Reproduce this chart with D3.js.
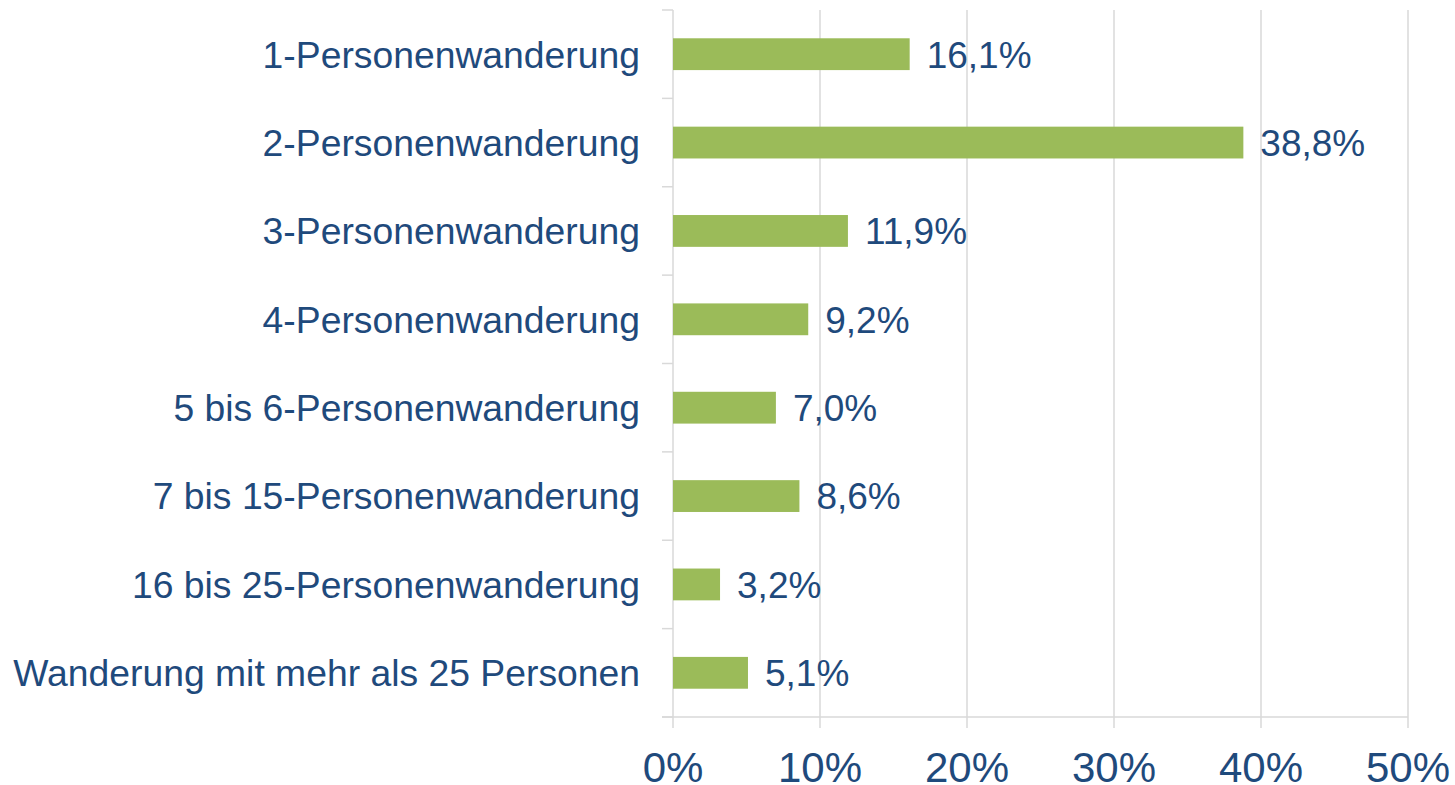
<!DOCTYPE html>
<html lang="de">
<head>
  <meta charset="UTF-8">
  <title>Wanderungen nach Gruppengröße</title>
  <script src="https://cdnjs.cloudflare.com/ajax/libs/d3/7.8.5/d3.min.js"></script>
  <style>
    body { margin: 0; background: #fff; }
    text { font-family: "Liberation Sans", Arial, sans-serif; fill: #1f4a7c; }
    .grid line { stroke: #d9d9d9; stroke-width: 1.5px; }
    .bar { fill: #9bbb59; }
  </style>
</head>
<body>
  <svg width="1455" height="785"></svg>
  <script>
    // Daten
    const categories = [
      "1-Personenwanderung",
      "2-Personenwanderung",
      "3-Personenwanderung",
      "4-Personenwanderung",
      "5 bis 6-Personenwanderung",
      "7 bis 15-Personenwanderung",
      "16 bis 25-Personenwanderung",
      "Wanderung mit mehr als 25 Personen"
    ]
    const values = [16.1, 38.8, 11.9, 9.2, 7.0, 8.6, 3.2, 5.1]
    const ticks = [0, 10, 20, 30, 40, 50]

    const svg = d3.select("svg")
    const plotL = 673, plotR = 1408, plotT = 10, plotB = 717

    const x = d3.scaleLinear().domain([0, 50]).range([plotL, plotR])
    const y = d3.scaleBand().domain(categories).range([plotT, plotB]).paddingInner(0.64).paddingOuter(0.32)
    const band = d3.scaleBand().domain(categories).range([plotT, plotB])

    // Gitterlinien
    const grid = svg.append("g").attr("class", "grid")
    grid.selectAll(".v").data(ticks).join("line")
      .attr("x1", d => x(d)).attr("x2", d => x(d))
      .attr("y1", plotT).attr("y2", plotB + 11)

    // Grundlinie + linke Ticks
    grid.append("line").attr("x1", plotL - 11).attr("x2", plotR).attr("y1", plotB).attr("y2", plotB)
    const yTicks = categories.map(c => band(c)).concat([plotB])
    grid.selectAll(".yt").data(yTicks).join("line")
      .attr("x1", plotL - 11).attr("x2", plotL)
      .attr("y1", d => d).attr("y2", d => d)

    // Balken
    svg.selectAll(".bar").data(values).join("rect")
      .attr("class", "bar")
      .attr("x", x(0))
      .attr("y", (d, i) => y(categories[i]))
      .attr("width", d => x(d) - x(0))
      .attr("height", y.bandwidth())

    // Werte
    const fmt = v => v.toFixed(1).replace(".", ",") + "%"
    svg.selectAll(".val").data(values).join("text")
      .attr("x", d => x(d) + 17)
      .attr("y", (d, i) => y(categories[i]) + y.bandwidth() / 2)
      .attr("dy", "0.36em")
      .style("font-size", "37px")
      .text(fmt)

    // Kategorien
    svg.selectAll(".cat").data(categories).join("text")
      .attr("x", plotL - 33)
      .attr("y", d => y(d) + y.bandwidth() / 2)
      .attr("dy", "0.36em")
      .attr("text-anchor", "end")
      .style("font-size", "37.3px")
      .text(d => d)

    // Achsenbeschriftung (unten angeschnitten wie im Original)
    svg.selectAll(".tick").data(ticks).join("text")
      .attr("x", d => x(d))
      .attr("y", 782)
      .attr("text-anchor", "middle")
      .style("font-size", "42px")
      .text(d => d + "%")
  </script>
</body>
</html>
